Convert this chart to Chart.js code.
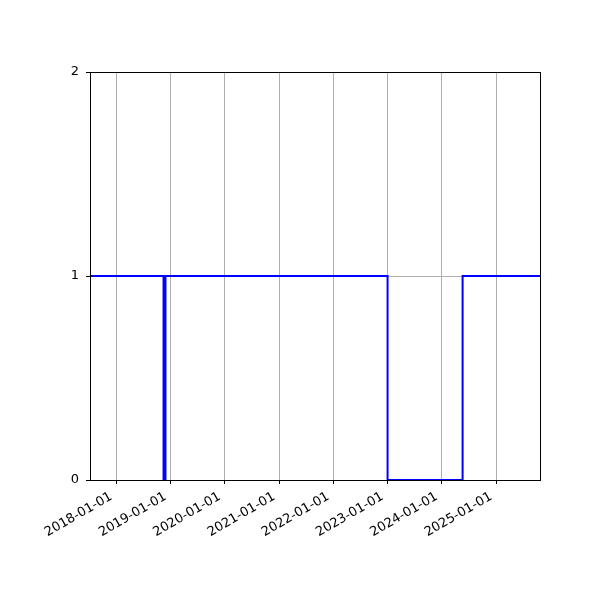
<!DOCTYPE html>
<html>
<head>
<meta charset="utf-8">
<script src="https://cdn.jsdelivr.net/npm/chart.js@4/dist/chart.umd.min.js"></script>
<style>
  html, body { margin: 0; padding: 0; background: #fff; }
  #wrap { width: 600px; height: 600px; }
</style>
</head>
<body>
<div id="wrap"><canvas id="chart" width="600" height="600"></canvas></div>
<script>
// step points: each value holds from its date until the next date
const stepDates = ['2017-07-08', '2018-11-15', '2018-11-28', '2023-01-01', '2024-05-20', '2025-10-23'];
const stepValues = [1, 0, 1, 0, 1, 1];
const tickDates = ['2018-01-01', '2019-01-01', '2020-01-01', '2021-01-01', '2022-01-01', '2023-01-01', '2024-01-01', '2025-01-01'];
const yTicks = [0, 1, 2];

const toMs = s => Date.parse(s + 'T00:00:00Z');
const fmtDate = ms => new Date(ms).toISOString().substring(0, 10);

const points = stepDates.map((d, i) => ({x: toMs(d), y: stepValues[i]}));

// draw the full black frame round the plot area
const framePlugin = {
  id: 'frame',
  afterDatasetsDraw(chart) {
    const {ctx, chartArea: a} = chart;
    ctx.save();
    ctx.strokeStyle = '#000';
    ctx.lineWidth = 1;
    ctx.strokeRect(Math.round(a.left) + 0.5, Math.round(a.top) + 0.5,
      Math.round(a.right - a.left), Math.round(a.bottom - a.top));
    ctx.restore();
  }
};

const font = {family: 'DejaVu Sans', size: 13};

new Chart(document.getElementById('chart'), {
  type: 'line',
  data: {
    datasets: [{
      data: points,
      borderColor: '#0000ff',
      borderWidth: 2,
      pointRadius: 0,
      stepped: 'before',
      fill: false
    }]
  },
  options: {
    responsive: false,
    animation: false,
    layout: {padding: {top: 72, right: 60, left: 0, bottom: 0}},
    plugins: {legend: {display: false}, tooltip: {enabled: false}},
    scales: {
      x: {
        type: 'linear',
        min: toMs(stepDates[0]),
        max: toMs(stepDates[stepDates.length - 1]),
        afterBuildTicks: axis => { axis.ticks = tickDates.map(d => ({value: toMs(d)})); },
        afterFit: axis => { axis.height = 120; },
        ticks: {
          autoSkip: false,
          minRotation: 30,
          maxRotation: 30,
          color: '#000',
          font,
          padding: 5,
          labelOffset: -5,
          callback: v => fmtDate(v)
        },
        grid: {color: '#b0b0b0', lineWidth: 1, tickColor: '#000', tickLength: 4},
        border: {display: true, color: '#000'}
      },
      y: {
        min: 0,
        max: 2,
        afterBuildTicks: axis => { axis.ticks = yTicks.map(v => ({value: v})); },
        afterFit: axis => { axis.width = 90; },
        ticks: {color: '#000', font, padding: 7},
        grid: {color: '#b0b0b0', lineWidth: 1, tickColor: '#000', tickLength: 4},
        border: {display: true, color: '#000'}
      }
    }
  },
  plugins: [framePlugin]
});
</script>
</body>
</html>
